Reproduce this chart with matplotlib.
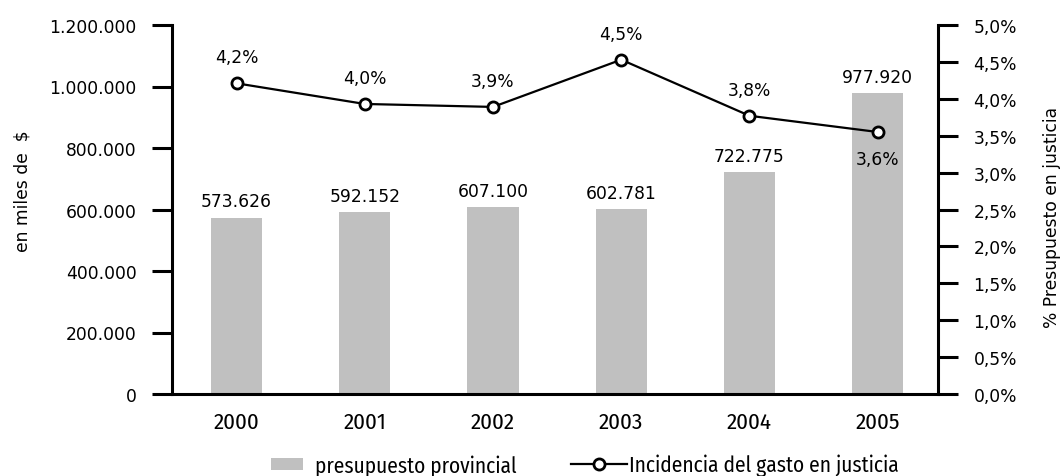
import matplotlib
matplotlib.use("Agg")
import matplotlib.pyplot as plt
from matplotlib.patches import Patch
from matplotlib.lines import Line2D
from matplotlib.ticker import FuncFormatter

REG = ['DejaVu Sans']
NARROW = ['Fira Sans Condensed', 'DejaVu Sans']
plt.rcParams['font.family'] = REG

years = ["2000", "2001", "2002", "2003", "2004", "2005"]
presupuesto = [573626, 592152, 607100, 602781, 722775, 977920]
presupuesto_labels = ["573.626", "592.152", "607.100", "602.781", "722.775", "977.920"]
incidencia = [4.21, 3.93, 3.89, 4.53, 3.77, 3.55]
incidencia_labels = ["4,2%", "4,0%", "3,9%", "4,5%", "3,8%", "3,6%"]
left_ticks = [0, 200000, 400000, 600000, 800000, 1000000, 1200000]
right_ticks = [0.0, 0.5, 1.0, 1.5, 2.0, 2.5, 3.0, 3.5, 4.0, 4.5, 5.0]

FS = 12.3
BAR_COLOR = "#c0c0c0"
W, H = 1062, 477

fig = plt.figure(figsize=(W/100, H/100), dpi=100)
ax = fig.add_axes([172/W, 1-395/H, (938-172)/W, (395-26)/H])
x = list(range(len(years)))

ax.bar(x, presupuesto, width=0.4, color=BAR_COLOR, zorder=1)
ax.set_xlim(-0.503, 5.47)
ax.set_ylim(0, 1200000)
ax.set_yticks(left_ticks)
ax.yaxis.set_major_formatter(FuncFormatter(lambda v, p: f"{int(v):,}".replace(",", ".")))
ax.set_xticks(x)
ax.set_xticklabels(years, family=NARROW, fontsize=16.5)
ax.tick_params(axis='x', length=0, pad=12)
ax.tick_params(axis='y', direction='out', length=14.5, width=2.2, pad=11, labelsize=FS)
for s in ["top", "right"]:
    ax.spines[s].set_visible(False)
for s in ["left", "bottom"]:
    ax.spines[s].set_linewidth(2.2)

for xi, v, lab in zip(x, presupuesto, presupuesto_labels):
    ax.annotate(lab, (xi, v), xytext=(0, 8), textcoords="offset points",
                ha="center", va="baseline", fontsize=FS)

fig.text(23/W, 1-191/H, "en miles de  $", rotation=90, ha="center", va="center", fontsize=FS)

ax2 = ax.twinx()
ax2.set_ylim(0, 5.0)
ax2.set_yticks(right_ticks)
ax2.yaxis.set_major_formatter(FuncFormatter(lambda v, p: f"{v:.1f}%".replace(".", ",")))
ax2.tick_params(axis='y', direction='out', length=14.5, width=2.2, pad=11, labelsize=FS)
for s in ["top", "left", "bottom"]:
    ax2.spines[s].set_visible(False)
ax2.spines["right"].set_linewidth(2.2)
ax2.plot(x, incidencia, color="black", lw=1.6, marker="o", markersize=8,
         markerfacecolor="white", markeredgecolor="black", markeredgewidth=2, zorder=3)
for i, (xi, v, lab) in enumerate(zip(x, incidencia, incidencia_labels)):
    if i == len(x) - 1:
        ax2.annotate(lab, (xi, v), xytext=(0, -13), textcoords="offset points",
                     ha="center", va="top", fontsize=FS)
    else:
        ax2.annotate(lab, (xi, v), xytext=(0, 15), textcoords="offset points",
                     ha="center", va="baseline", fontsize=FS)

fig.text(1052/W, 1-218/H, "% Presupuesto en justicia", rotation=90, ha="center", va="center", fontsize=FS)

LFS = 15.4
h1 = Patch(facecolor=BAR_COLOR, edgecolor="none")
h2 = Line2D([], [], color="black", lw=1.6, marker="o", markersize=8,
            markerfacecolor="white", markeredgecolor="black", markeredgewidth=2)
leg1 = fig.legend([h1], ["presupuesto provincial"], loc="center left",
                  bbox_to_anchor=(271/W, 1-466/H), frameon=False,
                  prop={'family': NARROW, 'size': LFS},
                  handlelength=1.5, handleheight=0.47, handletextpad=0.55,
                  borderpad=0, borderaxespad=0)
leg2 = fig.legend([h2], ["Incidencia del gasto en justicia"], loc="center left",
                  bbox_to_anchor=(571/W, 1-466/H), frameon=False,
                  prop={'family': NARROW, 'size': LFS},
                  handlelength=2.6, handletextpad=0.1,
                  borderpad=0, borderaxespad=0)

fig.savefig("out.png", dpi=100)
